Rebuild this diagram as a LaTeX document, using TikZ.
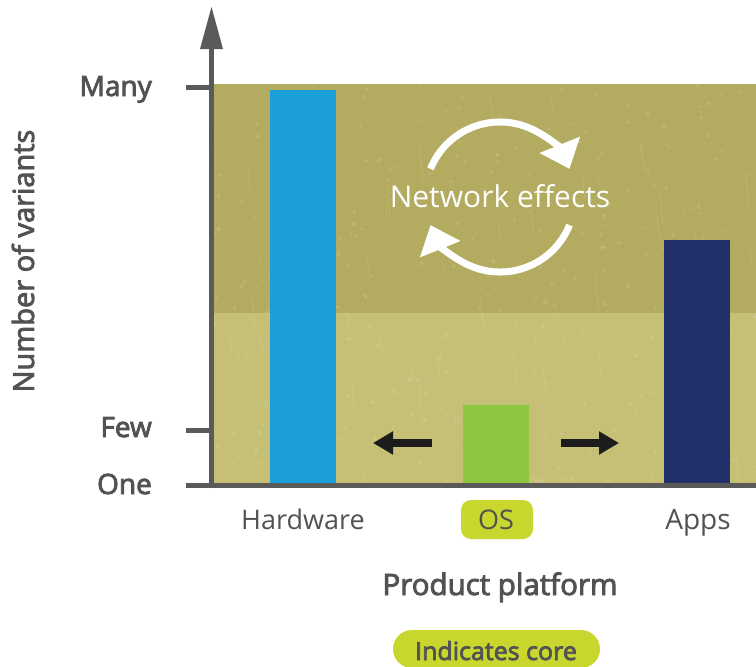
\documentclass[tikz,border=0pt]{standalone}
\usepackage{fontspec}
\setmainfont{Open Sans}
\newfontfamily\semib{Open Sans}[FakeBold=3]
\usetikzlibrary{arrows.meta}
\definecolor{bgtop}{RGB}{178,171,96}
\definecolor{bgbot}{RGB}{198,191,118}
\definecolor{axisgrey}{RGB}{90,90,90}
\definecolor{txtgrey}{RGB}{82,82,82}
\definecolor{hwblue}{RGB}{26,159,217}
\definecolor{osgreen}{RGB}{141,198,63}
\definecolor{appnavy}{RGB}{34,48,106}
\definecolor{lime}{RGB}{200,214,46}
\definecolor{arrowblack}{RGB}{28,28,28}
\begin{document}
\begin{tikzpicture}[x=1pt,y=-1pt,
  axisline/.style={draw=axisgrey,line width=5pt},
  lbl/.style={text=txtgrey,inner sep=0pt,font=\semib\fontsize{28}{30}\selectfont},
  catlbl/.style={text=txtgrey,inner sep=0pt,font=\fontsize{27}{29}\selectfont},
  pushar/.style={draw=arrowblack,line width=8pt,-{Triangle[length=20pt,width=22pt]}},
  loopar/.style={draw=white,line width=7pt,-{Triangle[length=26pt,width=42pt]}},
  pill/.style={fill=lime,draw=none},
  speck/.style={fill=white,opacity=0.13}
]
\useasboundingbox (0,0) rectangle (756,667);
% background
\fill[bgtop] (214,84) rectangle (756,313);
\fill[bgbot] (214,313) rectangle (756,483);
% texture
\pgfmathsetseed{7}
\begin{scope}
\clip (214,84) rectangle (756,483);
\foreach \i in {1,...,500}{
  \pgfmathsetmacro{\px}{214+542*rnd}
  \pgfmathsetmacro{\py}{84+399*rnd}
  \pgfmathsetmacro{\pr}{0.6+1.6*rnd}
  \fill[speck] (\px,\py) circle[radius=\pr];
}
\foreach \i in {1,...,60}{
  \pgfmathsetmacro{\px}{214+542*rnd}
  \pgfmathsetmacro{\py}{84+399*rnd}
  \pgfmathsetmacro{\pl}{8+30*rnd}
  \draw[white,opacity=0.12,line width=0.8pt] (\px,\py) -- ++(3,\pl);
}
\end{scope}
% bars
\fill[hwblue] (270,90) rectangle (336,483);
\fill[osgreen] (463,405) rectangle (529,483);
\fill[appnavy] (664,240) rectangle (730,483);
% axes
\coordinate (yb) at (211.5,488);
\coordinate (yt) at (211.5,45);
\draw[axisline] (yb) -- (yt);
\fill[axisgrey] (200,49) -- (211.5,7) -- (223,49) -- cycle;
\coordinate (xl) at (186,485.5);
\coordinate (xr) at (756,485.5);
\draw[axisline] (xl) -- (xr);
\coordinate (tm1) at (186,87);
\coordinate (tm2) at (212,87);
\draw[axisline] (tm1) -- (tm2);
\coordinate (tf1) at (186,430);
\coordinate (tf2) at (212,430);
\draw[axisline] (tf1) -- (tf2);
% axis labels
\node[lbl,anchor=base east] (many) at (152,96) {Many};
\node[lbl,anchor=base east] (few) at (152,437) {Few};
\node[lbl,anchor=base east] (one) at (152,494) {One};
\node[lbl,rotate=90,font=\semib\fontsize{29}{31}\selectfont] (nov) at (23,261) {Number of variants};
% category labels
\node[catlbl,anchor=base] (hw) at (303,529) {Hardware};
\fill[pill,rounded corners=10pt] (461,500) rectangle (533,539);
\node[catlbl,anchor=base] (os) at (496,529) {OS};
\node[catlbl,anchor=base,font=\fontsize{28}{30}\selectfont] (apps) at (698,529) {Apps};
\node[lbl,anchor=base,font=\semib\fontsize{29.5}{31}\selectfont] (pp) at (500,595) {Product platform};
\fill[pill,rounded corners=19pt] (393,630) rectangle (600,668);
\node[lbl,anchor=base,font=\semib\fontsize{25}{27}\selectfont] (core) at (496,660) {Indicates core};
% push arrows
\coordinate (la1) at (432,443);
\coordinate (la2) at (373,443);
\draw[pushar] (la1) -- (la2);
\coordinate (ra1) at (561,443);
\coordinate (ra2) at (619,443);
\draw[pushar] (ra1) -- (ra2);
% network effects
\node[text=white,inner sep=0pt,anchor=base,font=\fontsize{30}{32}\selectfont] (ne) at (500,207) {Network effects};
\coordinate (nc) at (500,197);
\draw[loopar] (nc) ++(-158:75) arc[start angle=-158,end angle=-22,radius=75];
\draw[loopar] (nc) ++(22:75) arc[start angle=22,end angle=158,radius=75];
\end{tikzpicture}
\end{document}
